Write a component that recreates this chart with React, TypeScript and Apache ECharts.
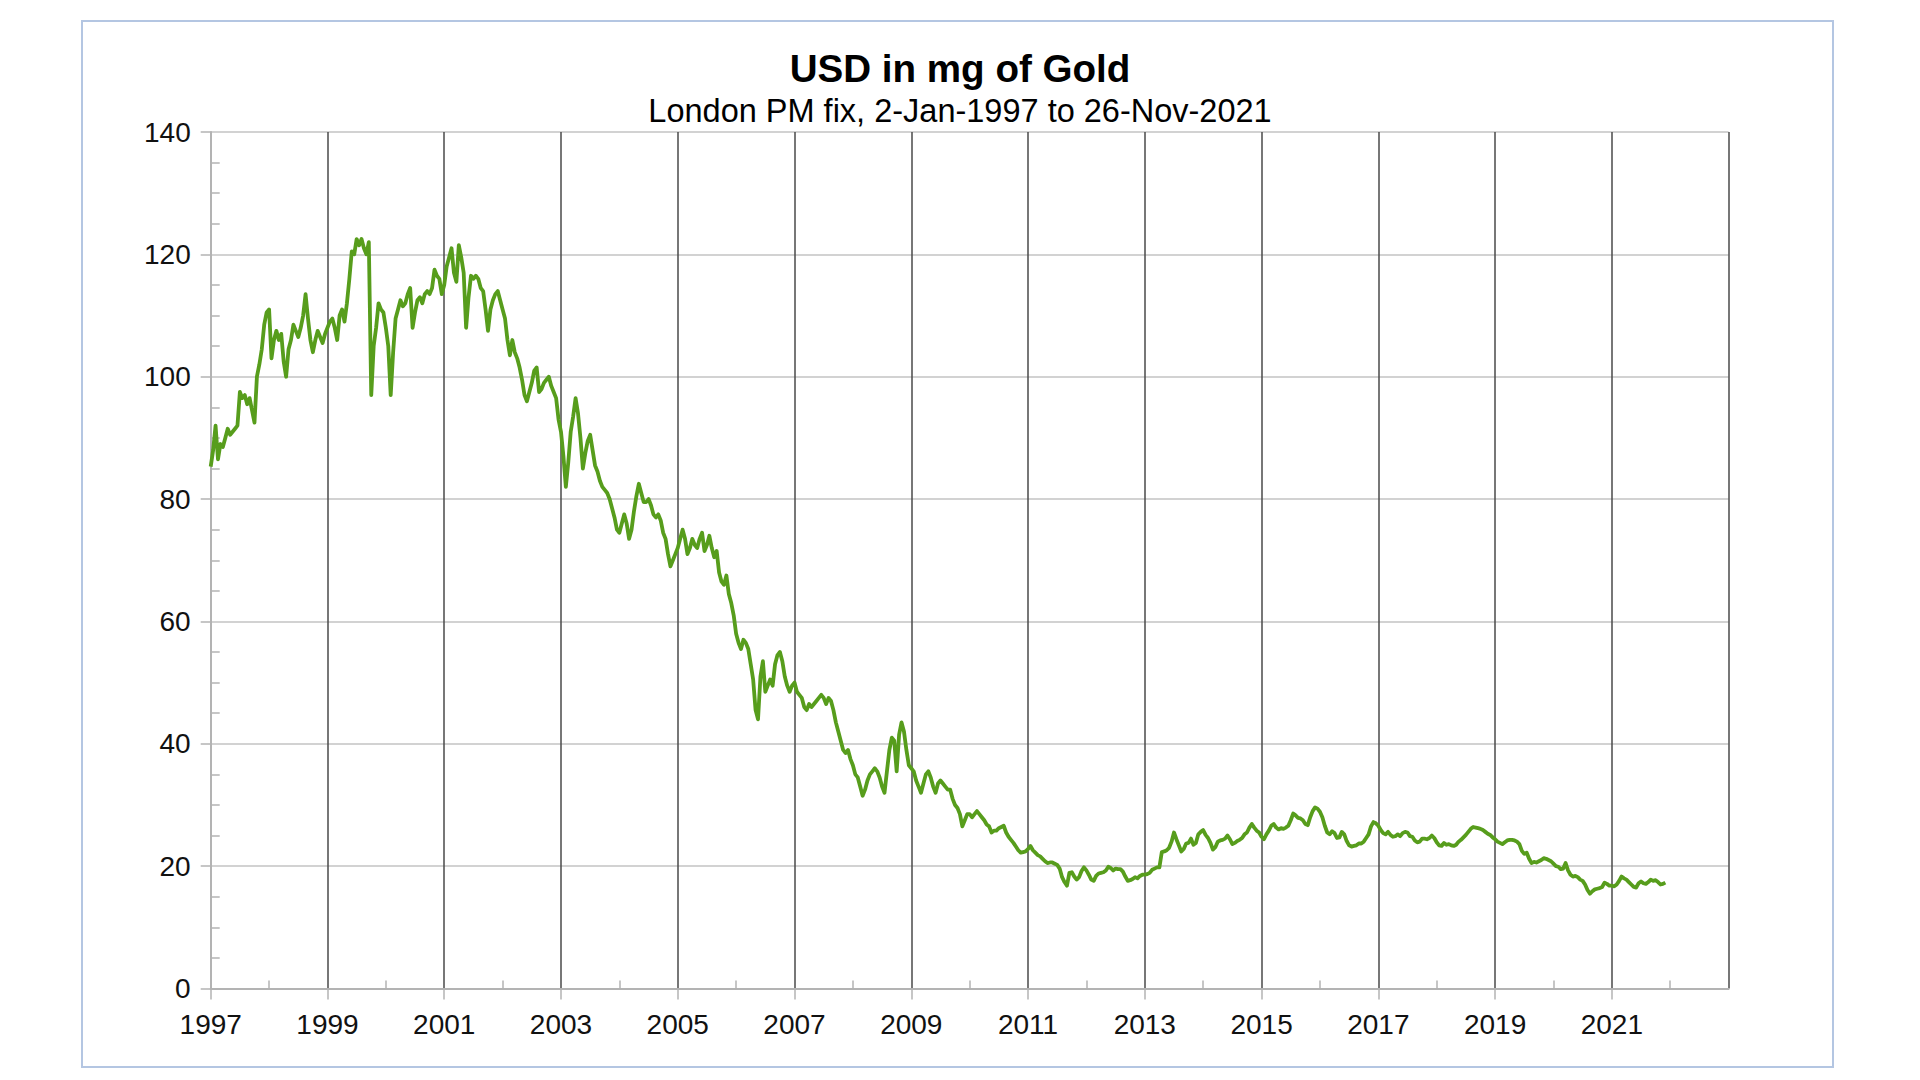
import React, { useEffect, useRef } from "react";
import * as echarts from "echarts";

// USD in mg of gold, semi-monthly readings (24 per year, 2021 ends late Nov)
const v1997 = [85.3, 88.0, 92.0, 86.5, 89.0, 88.5, 90.0, 91.5, 90.5, 91.0, 91.5, 92.0, 97.5, 96.5, 97.0, 95.5, 96.5, 94.5, 92.5, 100.0, 102.0, 104.5, 108.5, 110.5];
const v1998 = [111.0, 103.0, 106.0, 107.5, 106.0, 107.0, 102.5, 100.0, 104.5, 106.0, 108.5, 107.5, 106.5, 108.0, 110.0, 113.5, 109.5, 106.0, 104.0, 106.0, 107.5, 106.5, 105.5, 107.0];
const v1999 = [108.0, 109.0, 109.5, 108.0, 106.0, 110.0, 111.0, 109.0, 112.0, 116.0, 120.5, 120.0, 122.5, 121.5, 122.5, 121.0, 120.0, 122.0, 97.0, 105.0, 108.0, 112.0, 111.0, 110.5];
const v2000 = [108.0, 105.0, 97.0, 104.0, 109.5, 111.0, 112.5, 111.5, 112.0, 113.5, 114.5, 108.0, 110.5, 112.5, 113.0, 112.0, 113.5, 114.0, 113.5, 114.5, 117.5, 116.5, 116.0, 113.5];
const v2001 = [115.0, 118.0, 119.5, 121.0, 117.0, 115.5, 121.5, 119.5, 117.0, 108.0, 113.0, 116.5, 116.0, 116.5, 116.0, 114.5, 114.0, 111.0, 107.5, 111.0, 112.5, 113.5, 114.0, 112.5];
const v2002 = [111.0, 109.5, 106.0, 103.5, 106.0, 104.0, 103.0, 101.5, 99.5, 97.0, 96.0, 97.5, 99.0, 101.0, 101.5, 97.5, 98.0, 99.0, 99.5, 100.0, 98.5, 97.5, 96.5, 93.0];
const v2003 = [91.0, 87.0, 82.0, 86.0, 91.0, 93.5, 96.5, 94.0, 90.0, 85.0, 87.5, 89.5, 90.5, 88.0, 85.5, 84.5, 83.0, 82.0, 81.5, 81.0, 80.0, 78.5, 77.0, 75.0];
const v2004 = [74.5, 76.0, 77.5, 76.0, 73.5, 75.0, 78.0, 80.5, 82.5, 81.0, 79.5, 79.5, 80.0, 79.0, 77.5, 77.0, 77.5, 76.5, 74.5, 73.5, 71.0, 69.0, 70.0, 71.0];
const v2005 = [72.0, 73.5, 75.0, 73.5, 71.0, 72.0, 73.5, 72.5, 72.0, 73.5, 74.5, 71.5, 72.5, 74.0, 72.0, 70.5, 71.5, 68.0, 66.5, 66.0, 67.5, 64.5, 63.0, 61.0];
const v2006 = [58.0, 56.5, 55.5, 57.0, 56.5, 55.5, 53.0, 50.5, 45.5, 44.0, 51.0, 53.5, 48.5, 49.5, 50.5, 49.5, 53.0, 54.5, 55.0, 53.5, 51.0, 49.5, 48.5, 49.5];
const v2007 = [50.0, 48.5, 48.0, 47.5, 46.0, 45.5, 46.5, 46.0, 46.5, 47.0, 47.5, 48.0, 47.5, 46.5, 47.5, 47.0, 45.5, 43.5, 42.0, 40.5, 39.0, 38.5, 39.0, 37.5];
const v2008 = [36.5, 35.0, 34.5, 33.0, 31.5, 32.5, 34.0, 35.0, 35.5, 36.0, 35.5, 34.5, 33.0, 32.0, 35.5, 39.0, 41.0, 40.5, 35.5, 41.5, 43.5, 42.0, 39.0, 36.5];
const v2009 = [36.0, 35.5, 34.0, 33.0, 32.0, 33.5, 35.0, 35.5, 34.5, 33.0, 32.0, 33.5, 34.0, 33.5, 33.0, 32.5, 32.5, 31.0, 30.0, 29.5, 28.5, 26.5, 27.5, 28.5];
const v2010 = [28.5, 28.0, 28.5, 29.0, 28.5, 28.0, 27.5, 26.8, 26.5, 25.5, 25.8, 25.8, 26.2, 26.4, 26.6, 25.5, 24.8, 24.3, 23.8, 23.2, 22.6, 22.2, 22.3, 22.4];
const v2011 = [22.8, 23.3, 22.6, 22.2, 21.8, 21.6, 21.2, 20.8, 20.5, 20.6, 20.6, 20.4, 20.2, 19.6, 18.2, 17.4, 16.8, 18.9, 19.0, 18.3, 17.8, 18.2, 19.2, 19.8];
const v2012 = [19.3, 18.6, 17.8, 17.6, 18.4, 18.8, 18.9, 19.0, 19.3, 19.9, 19.7, 19.3, 19.6, 19.5, 19.5, 19.1, 18.3, 17.6, 17.7, 17.9, 18.2, 18.0, 18.4, 18.6];
const v2013 = [18.6, 18.7, 18.9, 19.4, 19.6, 19.8, 19.8, 22.3, 22.4, 22.6, 23.0, 24.0, 25.5, 24.4, 23.4, 22.4, 22.8, 23.7, 23.8, 24.5, 23.5, 23.8, 25.2, 25.6];
const v2014 = [25.9, 25.1, 24.6, 23.8, 22.7, 23.1, 24.0, 24.2, 24.3, 24.5, 25.0, 24.4, 23.6, 23.8, 24.1, 24.3, 24.6, 25.2, 25.5, 26.3, 26.9, 26.3, 25.8, 25.5];
const v2015 = [24.8, 24.4, 25.2, 25.8, 26.6, 26.9, 26.3, 26.0, 26.2, 26.1, 26.3, 26.6, 27.5, 28.6, 28.3, 27.9, 27.8, 27.5, 26.9, 26.7, 28.0, 29.0, 29.6, 29.4];
const v2016 = [28.9, 28.0, 26.6, 25.5, 25.2, 25.7, 25.4, 24.6, 24.7, 25.6, 25.2, 24.1, 23.4, 23.2, 23.3, 23.4, 23.7, 23.7, 24.0, 24.6, 25.2, 26.5, 27.2, 27.0];
const v2017 = [26.6, 25.9, 25.4, 25.2, 25.6, 25.1, 24.8, 24.9, 25.2, 24.9, 25.4, 25.6, 25.5, 24.9, 24.8, 24.2, 23.9, 24.0, 24.5, 24.5, 24.4, 24.6, 25.0, 24.6];
const v2018 = [23.9, 23.4, 23.3, 23.8, 23.5, 23.6, 23.4, 23.3, 23.5, 24.0, 24.3, 24.7, 25.1, 25.6, 26.1, 26.4, 26.3, 26.2, 26.1, 25.9, 25.6, 25.3, 25.1, 24.7];
const v2019 = [24.4, 24.0, 23.8, 23.6, 23.9, 24.2, 24.3, 24.3, 24.2, 24.0, 23.6, 22.5, 22.0, 22.2, 21.2, 20.5, 20.7, 20.6, 20.8, 21.0, 21.3, 21.2, 21.0, 20.8];
const v2020 = [20.4, 20.0, 19.9, 19.5, 19.6, 20.5, 19.3, 18.6, 18.3, 18.4, 18.2, 17.8, 17.6, 17.0, 16.1, 15.5, 15.9, 16.2, 16.3, 16.4, 16.6, 17.3, 17.1, 16.8];
const v2021 = [16.8, 16.7, 17.0, 17.6, 18.3, 18.0, 17.8, 17.4, 17.0, 16.6, 16.5, 17.2, 17.5, 17.2, 17.1, 17.4, 17.8, 17.6, 17.7, 17.4, 17.0, 17.1, 17.3];

const yearlyValues: [number, number[]][] = [
  [1997, v1997], [1998, v1998], [1999, v1999], [2000, v2000], [2001, v2001],
  [2002, v2002], [2003, v2003], [2004, v2004], [2005, v2005], [2006, v2006],
  [2007, v2007], [2008, v2008], [2009, v2009], [2010, v2010], [2011, v2011],
  [2012, v2012], [2013, v2013], [2014, v2014], [2015, v2015], [2016, v2016],
  [2017, v2017], [2018, v2018], [2019, v2019], [2020, v2020], [2021, v2021],
];

const titleText = "USD in mg of Gold";
const subtitleText = "London PM fix, 2-Jan-1997 to 26-Nov-2021";
const xMin = 1997;
const xMax = 2023;
const yMin = 0;
const yMax = 140;

const FONT = "'Liberation Sans', Arial, sans-serif";

export default function App() {
  const ref = useRef<HTMLDivElement>(null);

  useEffect(() => {
    if (!ref.current) return;
    const chart = echarts.init(ref.current, undefined, { renderer: "svg" });

    const seriesData: [number, number][] = [];
    yearlyValues.forEach(([yr, vals]) => {
      vals.forEach((v, i) => seriesData.push([yr + i / 24, v]));
    });

    const axisGray = "#b3b3b3";
    const textColor = "#111";

    chart.setOption({
      animation: false,
      backgroundColor: "#ffffff",
      title: [
        {
          text: titleText,
          left: "center",
          top: 49,
          padding: 0,
          textStyle: { fontFamily: FONT, fontSize: 38.6, fontWeight: "bold", color: "#000" },
        },
        {
          text: subtitleText,
          left: "center",
          top: 94,
          padding: 0,
          textStyle: { fontFamily: FONT, fontSize: 32.5, fontWeight: "normal", color: "#000" },
        },
      ],
      graphic: [
        {
          type: "rect",
          shape: { x: 82, y: 21, width: 1751, height: 1046 },
          style: { fill: "none", stroke: "#b4c6e2", lineWidth: 2 },
          silent: true,
          z: -1,
        },
      ],
      grid: { left: 210.7, right: 191.4, top: 132, bottom: 91.5, containLabel: false },
      xAxis: [
        {
          type: "value",
          min: xMin,
          max: xMax,
          interval: 2,
          position: "bottom",
          axisLine: { show: true, onZero: false, lineStyle: { color: axisGray, width: 2 } },
          axisTick: { show: true, inside: false, length: 11, lineStyle: { color: axisGray, width: 1.5 } },
          axisLabel: {
            show: true,
            margin: 22,
            fontFamily: FONT,
            fontSize: 28,
            color: textColor,
            showMaxLabel: false,
            formatter: (v: number) => (v >= xMax ? "" : String(v)),
          },
          splitLine: { show: true, showMinLine: false, lineStyle: { color: "#4a4a4a", width: 1.5 } },
        },
        {
          type: "value",
          min: xMin,
          max: xMax,
          interval: 2,
          position: "bottom",
          axisLine: { show: false, onZero: false },
          axisTick: { show: false, inside: true },
          minorTick: { show: true, splitNumber: 2, length: 8, lineStyle: { color: axisGray, width: 1.5 } },
          axisLabel: { show: false },
          splitLine: { show: false },
        },
      ],
      yAxis: [
        {
          type: "value",
          min: yMin,
          max: yMax,
          interval: 20,
          position: "left",
          axisLine: { show: true, onZero: false, lineStyle: { color: axisGray, width: 2 } },
          axisTick: { show: true, inside: false, length: 10, lineStyle: { color: axisGray, width: 1.5 } },
          axisLabel: { show: true, margin: 20, fontFamily: FONT, fontSize: 28, color: textColor },
          splitLine: { show: true, showMinLine: false, lineStyle: { color: "#d2d2d2", width: 2 } },
        },
        {
          type: "value",
          min: yMin,
          max: yMax,
          interval: 20,
          position: "left",
          axisLine: { show: false, onZero: false },
          axisTick: { show: false, inside: true },
          minorTick: { show: true, splitNumber: 4, length: 9, lineStyle: { color: axisGray, width: 1.5 } },
          axisLabel: { show: false },
          splitLine: { show: false },
        },
      ],
      series: [
        {
          type: "line",
          xAxisIndex: 0,
          yAxisIndex: 0,
          data: seriesData,
          showSymbol: false,
          symbol: "none",
          smooth: false,
          lineStyle: { color: "#579d1c", width: 3.8, join: "round" },
          z: 5,
        },
      ],
    });

    return () => chart.dispose();
  }, []);

  return (
    <div
      ref={ref}
      style={{ position: "fixed", left: 0, top: 0, width: 1920, height: 1080, background: "#fff" }}
    />
  );
}
